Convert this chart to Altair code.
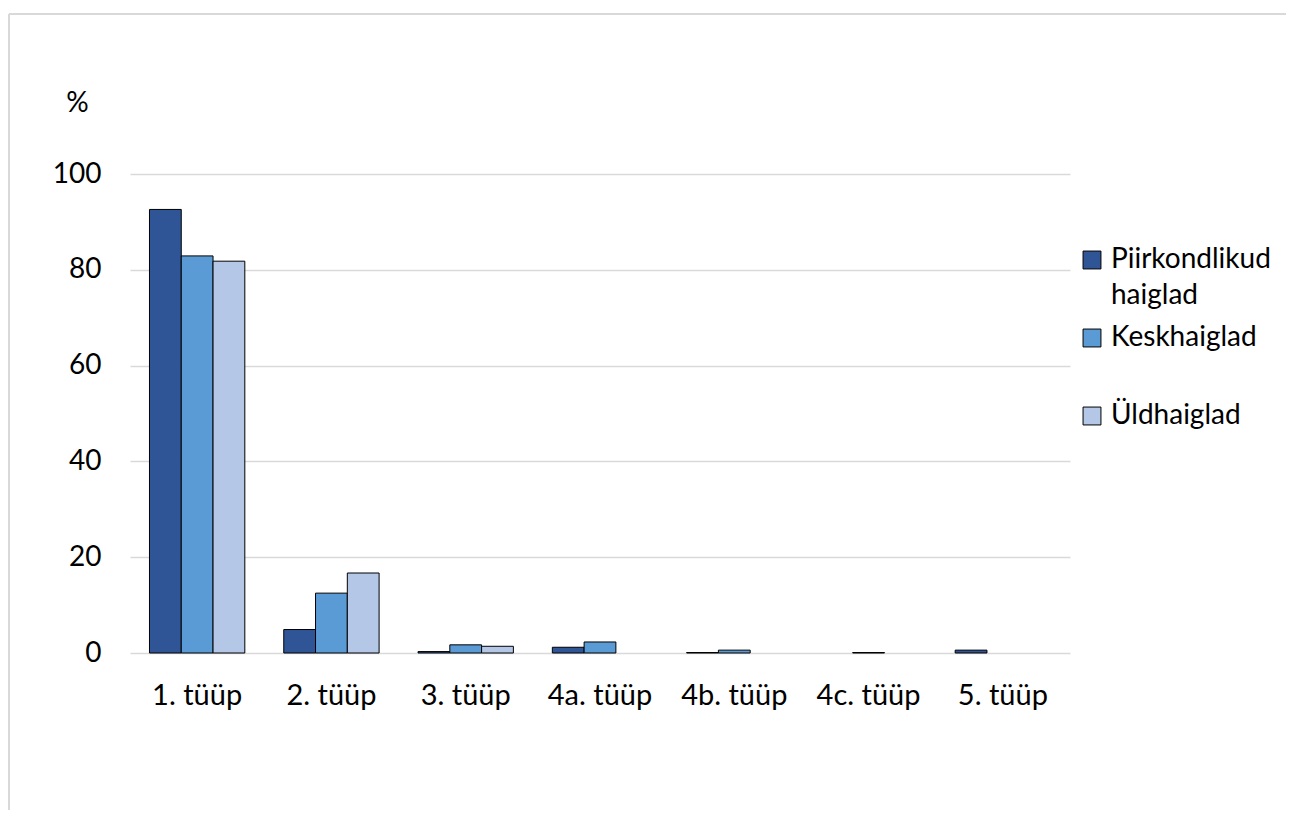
import altair as alt
import pandas as pd

categories = ["1. tüüp", "2. tüüp", "3. tüüp", "4a. tüüp", "4b. tüüp", "4c. tüüp", "5. tüüp"]
series = ["Piirkondlikud haiglad", "Keskhaiglad", "Üldhaiglad"]
piirkondlikud = [92.6, 4.9, 0.3, 1.2, 0.1, 0.0, 0.6]
keskhaiglad = [82.9, 12.5, 1.7, 2.3, 0.6, 0.1, 0.0]
uldhaiglad = [81.8, 16.7, 1.4, 0.0, 0.0, 0.0, 0.0]
colors = ["#2F5597", "#5B9BD5", "#B4C7E7"]

rows = []
for s, vals in zip(series, [piirkondlikud, keskhaiglad, uldhaiglad]):
    for c, v in zip(categories, vals):
        rows.append({"cat": c, "series": s, "value": v})
df = pd.DataFrame(rows)

FONT = "Lato"
FS = 28

bars = alt.Chart(df).transform_filter("datum.value > 0").mark_bar(stroke="#000000", strokeWidth=1).encode(
    x=alt.X("cat:N", sort=categories,
            scale=alt.Scale(domain=categories, paddingInner=0.29, paddingOuter=0.145),
            axis=alt.Axis(title=None, labelAngle=0, labelFontSize=29, labelFont=FONT,
                          labelColor="#000000", labelPadding=28, ticks=False, domain=False)),
    xOffset=alt.XOffset("series:N", sort=series,
                        scale=alt.Scale(domain=series, paddingInner=0, paddingOuter=0)),
    y=alt.Y("value:Q", scale=alt.Scale(domain=[0, 100]),
            axis=alt.Axis(title="%", titleAngle=0, titleFont=FONT, titleFontSize=FS,
                          titleFontWeight="normal", titleColor="#000000",
                          titleX=-53, titleY=-57, titleAlign="center",
                          values=[0, 20, 40, 60, 80, 100], labelFontSize=FS, labelFont=FONT,
                          labelColor="#000000", labelPadding=29, ticks=False, domain=False,
                          gridColor="#D9D9D9", gridWidth=1.5)),
    color=alt.Color("series:N", sort=series,
                    scale=alt.Scale(domain=series, range=colors),
                    legend=alt.Legend(title=None, orient="none", legendX=948, legendY=72,
                                      symbolType="square", symbolSize=320,
                                      symbolStrokeColor="#000000", symbolStrokeWidth=1,
                                      labelFont=FONT, labelFontSize=FS, labelColor="#000000",
                                      labelExpr="datum.label == 'Piirkondlikud haiglad' ? ['Piirkondlikud', 'haiglad'] : datum.label",
                                      labelBaseline="middle", gridAlign="all", rowPadding=14,
                                      labelOffset=5, labelLimit=300)),
)

border = alt.Chart(pd.DataFrame({"k": [0]})).mark_rule(color="#D9D9D9", strokeWidth=2).encode(
    x=alt.value(-121), x2=alt.value(1200), y=alt.value(-160), y2=alt.value(-160)
)
border_left = alt.Chart(pd.DataFrame({"k": [0]})).mark_rule(color="#D9D9D9", strokeWidth=2).encode(
    x=alt.value(-121), y=alt.value(-160), y2=alt.value(700)
)

chart = alt.layer(border, border_left, bars).properties(
    width=940, height=479,
    autosize=alt.AutoSizeParams(type="none"),
    padding={"left": 122, "top": 166, "right": 216, "bottom": 157},
).configure(font=FONT, style={"guide-label": {"lineHeight": 36}}).configure_view(stroke=None)

chart.save("out.html", embed_options={"renderer": "svg", "actions": False})
